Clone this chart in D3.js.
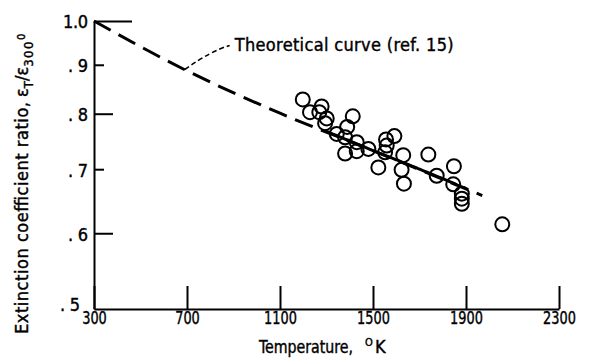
<!DOCTYPE html>
<html>
<head>
<meta charset="utf-8">
<script src="https://cdn.jsdelivr.net/npm/d3@7"></script>
<style>
    body { margin: 0; background: #fff; }
    svg text { font-family: "Liberation Sans Narrow", "DejaVu Sans Condensed", sans-serif; fill: #000; stroke: #000; stroke-width: 0.4px; }
    .tick text { font-size: 18px; }
    .label { font-size: 18px; }
</style>
</head>
<body>
<div id="wrapper"></div>
<script>
(() => {

    // 1. data
    const temperatures = [1198, 1229, 1279, 1269, 1301, 1294, 1413, 1389, 1344, 1380,
        1430, 1380, 1430, 1480, 1523, 1556, 1592, 1559, 1552, 1630,
        1623, 1633, 1738, 1774, 1848, 1845, 1882, 1882, 1882, 2056];
    const ratios = [0.828, 0.803, 0.814, 0.803, 0.791, 0.782, 0.795, 0.775, 0.762, 0.756,
        0.747, 0.727, 0.731, 0.735, 0.703, 0.752, 0.758, 0.741, 0.729, 0.724,
        0.699, 0.676, 0.725, 0.689, 0.705, 0.675, 0.660, 0.652, 0.644, 0.613];

    // theoretical curve (ref. 15)
    const curveTemps = [300, 700, 1100, 1500, 1970];
    const curveRatios = [1.0, 0.887, 0.801, 0.732, 0.657];
    // part of the curve drawn solid through the data
    const solidRange = [1290, 1860];

    const xTicks = [300, 700, 1100, 1500, 1900, 2300];
    const yTicks = [0.5, 0.6, 0.7, 0.8, 0.9, 1.0];
    const yTickLabels = [".5", ".6", ".7", ".8", ".9", "1.0"];

    const points = temperatures.map((t, i) => ({ t, r: ratios[i] }));
    const curve = curveTemps.map((t, i) => ({ t, r: curveRatios[i] }));
    const curveAt = d3.scaleLinear().domain(curveTemps).range(curveRatios);

    // 2. dimensions
    let dimensions = {
        width: 598,
        height: 362,
        margin: { top: 21, right: 39, bottom: 53, left: 94 },
    }
    dimensions.boundedWidth = dimensions.width - dimensions.margin.left - dimensions.margin.right
    dimensions.boundedHeight = dimensions.height - dimensions.margin.top - dimensions.margin.bottom

    // 3. draw canvas
    const wrapper = d3.select('#wrapper')
        .append('svg')
        .attr('width', dimensions.width)
        .attr('height', dimensions.height)

    const bounds = wrapper.append('g')
        .attr('transform', `translate(${dimensions.margin.left}, ${dimensions.margin.top})`)

    // 4. scales
    const xScale = d3.scaleLinear()
        .domain([300, 2300])
        .range([0, dimensions.boundedWidth])

    const yScale = d3.scaleLog()
        .domain([0.5, 1.0])
        .range([dimensions.boundedHeight, 0])

    // 5. draw data
    const lineGenerator = d3.line()
        .x(d => xScale(d.t))
        .y(d => yScale(d.r))
        .curve(d3.curveMonotoneX)

    bounds.append('path')
        .attr('d', lineGenerator(curve))
        .attr('fill', 'none')
        .attr('stroke', '#000')
        .attr('stroke-width', 3)
        .attr('stroke-dasharray', '19 9')

    const solidPart = d3.range(solidRange[0], solidRange[1] + 1, 10)
        .map(t => ({ t, r: curveAt(t) }))
    bounds.append('path')
        .attr('d', lineGenerator(solidPart))
        .attr('fill', 'none')
        .attr('stroke', '#000')
        .attr('stroke-width', 3)

    bounds.selectAll('.point')
        .data(points)
        .enter()
        .append('circle')
        .attr('class', 'point')
        .attr('cx', d => xScale(d.t))
        .attr('cy', d => yScale(d.r))
        .attr('r', 7)
        .attr('fill', 'none')
        .attr('stroke', '#000')
        .attr('stroke-width', 2)

    // 6. peripherals
    const yTickLength = d => d == 1.0 ? 38 : (d == 0.8 || d == 0.6) ? 19 : d == 0.5 ? 0 : 10

    const yAxis = bounds.append('g')
        .call(d3.axisLeft(yScale)
            .tickValues(yTicks)
            .tickFormat((d, i) => yTickLabels[i])
            .tickSizeInner(-10)
            .tickSizeOuter(0)
            .tickPadding(6))
    yAxis.selectAll('.tick line')
        .attr('x2', yTickLength)
        .attr('stroke-width', 2)
    yAxis.select('.domain').attr('stroke-width', 2)
    // the .5 label sits in the corner, kept clear of the 300 label
    yAxis.selectAll('.tick text')
        .attr('textLength', d => d == 1.0 ? 25 : 20)
        .attr('lengthAdjust', 'spacing')
        .attr('x', d => d == 0.5 ? -14 : -6)
        .attr('dy', d => d == 0.5 ? '0.1em' : '0.38em')

    const xAxis = bounds.append('g')
        .attr('transform', `translate(0, ${dimensions.boundedHeight})`)
        .call(d3.axisBottom(xScale)
            .tickValues(xTicks)
            .tickFormat(d3.format('d'))
            .tickSizeInner(-23)
            .tickSizeOuter(0)
            .tickPadding(2))
    xAxis.selectAll('.tick line').attr('stroke-width', 2)
    xAxis.select('.domain').attr('stroke-width', 2)
    xAxis.selectAll('.tick text')
        .attr('textLength', d => String(d).length * 8.2)
        .attr('lengthAdjust', 'spacingAndGlyphs')

    // x label
    wrapper.append('text')
        .attr('class', 'label')
        .attr('x', 259)
        .attr('y', 353)
        .attr('textLength', 94)
        .attr('lengthAdjust', 'spacingAndGlyphs')
        .text('Temperature,')
    wrapper.append('text')
        .attr('x', 365)
        .attr('y', 346)
        .attr('font-size', 11)
        .text('O')
    wrapper.append('text')
        .attr('class', 'label')
        .attr('x', 375)
        .attr('y', 353)
        .text('K')

    // y label
    wrapper.append('text')
        .attr('class', 'label')
        .attr('transform', 'rotate(-90)')
        .attr('x', -334)
        .attr('y', 28)
        .attr('font-size', 17)
        .attr('textLength', 232)
        .attr('lengthAdjust', 'spacing')
        .text('Extinction coefficient ratio,')

    const yLabelSym = wrapper.append('text')
        .attr('class', 'label')
        .attr('transform', 'rotate(-90)')
        .attr('x', -97)
        .attr('y', 28)
        .attr('font-size', 17)
    yLabelSym.append('tspan').text('ε')
    yLabelSym.append('tspan').attr('dy', 5).attr('font-size', 13).text('T')
    yLabelSym.append('tspan').attr('dy', -5).text('/ε')
    yLabelSym.append('tspan').attr('dy', 5).attr('font-size', 13).attr('letter-spacing', 1.5).text('300')
    yLabelSym.append('tspan').attr('dy', -8).attr('font-size', 11).text('0')

    // annotation
    const ax = xScale(690)
    const ay = yScale(curveAt(690))
    bounds.append('path')
        .attr('d', `M${ax},${ay}Q${ax + 27},${ay - 19} ${ax + 45},${ay - 24}`)
        .attr('fill', 'none')
        .attr('stroke', '#000')
        .attr('stroke-width', 1.6)
        .attr('stroke-dasharray', '5 3')

    bounds.append('text')
        .attr('class', 'label')
        .attr('x', ax + 50)
        .attr('y', ay - 19)
        .attr('textLength', 219)
        .attr('lengthAdjust', 'spacing')
        .text('Theoretical curve (ref. 15)')

})()
</script>
</body>
</html>
